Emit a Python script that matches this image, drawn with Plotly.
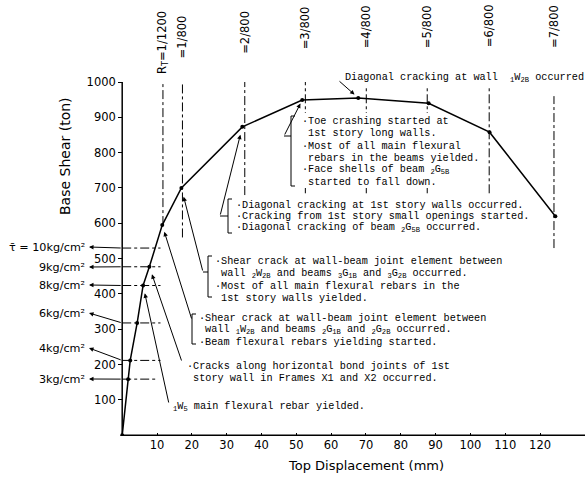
import plotly.graph_objects as go

# ---------------- data ----------------
disp = [0, 1.7, 2.3, 4.3, 6.0, 7.8, 11.5, 17.0, 34.5, 51.7, 67.8, 88.0, 105.5, 124.4]
shear = [0, 159, 212, 318, 424, 477, 595, 700, 873, 949, 955, 940, 858, 620]

tau_labels = ["τ̄ = 10kg/cm²", "9kg/cm²", "8kg/cm²", "6kg/cm²", "4kg/cm²", "3kg/cm²"]
tau_shear = [530, 477, 424, 318, 212, 159]
tau_line_end = [11, 11, 11, 11, 11, 10]

drift_labels = ["R<sub>T</sub>=1/1200", "=1/800", "=2/800", "=3/800", "=4/800",
                "=5/800", "=6/800", "=7/800"]
drift_disp = [11.7, 17.3, 35.2, 52.6, 70.1, 87.6, 105.4, 124.0]
drift_top = [1000, 1000, 1000, 1000, 985, 985, 985, 960]
drift_bottom = [595, 560, 680, 685, 685, 685, 685, 530]

x_ticks = [10, 20, 30, 40, 50, 60, 70, 80, 90, 100, 110, 120]
y_ticks = [100, 200, 300, 400, 500, 600, 700, 800, 900, 1000]

# ---------------- layout helpers (pixel -> axis) ----------------
W, H = 585, 478
MB = 42
PH = H - MB
X0PX, XS = 122.2, 3.482
Y0PX, YS = 435.3, 0.3533


def X(px):
    return (px - X0PX) / XS


def Y(py):
    return (Y0PX - py) / YS


def PY(py):
    return (PH - py) / PH


TXT = dict(family="Liberation Mono", size=10.2, color="black")
SANS = "DejaVu Sans"

fig = go.Figure()

# drift reference lines
vx, vy = [], []
for d, t, b in zip(drift_disp, drift_top, drift_bottom):
    vx += [d, d, None]
    vy += [b, t, None]
fig.add_trace(go.Scatter(x=vx, y=vy, mode="lines",
                         line=dict(color="black", width=1, dash="dashdot"),
                         hoverinfo="skip"))

# tau reference lines
hx, hy = [], []
for s, e in zip(tau_shear, tau_line_end):
    hx += [0, e, None]
    hy += [s, s, None]
fig.add_trace(go.Scatter(x=hx, y=hy, mode="lines",
                         line=dict(color="black", width=1, dash="dashdot"),
                         hoverinfo="skip"))

# main curve
fig.add_trace(go.Scatter(x=disp, y=shear, mode="lines+markers",
                         line=dict(color="black", width=1.5),
                         marker=dict(color="black", size=4)))

shapes = []
# axes lines
shapes.append(dict(type="line", xref="x", yref="y", x0=0, x1=X(585), y0=0, y1=0,
                   line=dict(color="black", width=1.5)))
shapes.append(dict(type="line", xref="x", yref="y", x0=0, x1=0, y0=0, y1=1000,
                   line=dict(color="black", width=1.5)))

# white gaps where the drift lines pass behind text
for (cx, y0, y1) in [(305, 113, 188), (366, 113, 188), (427, 113, 188),
                     (366, 70, 86), (427, 70, 86), (489, 70, 86)]:
    shapes.append(dict(type="rect", xref="x", yref="y", x0=X(cx - 3), x1=X(cx + 3),
                       y0=Y(y1), y1=Y(y0), fillcolor="white", line=dict(width=0),
                       layer="above"))


def path(pts):
    s = "M " + " L ".join(f"{X(p[0])},{Y(p[1])}" for p in pts)
    return dict(type="path", xref="x", yref="y", path=s,
                line=dict(color="black", width=1), layer="above")


# brackets
shapes.append(path([(295, 116), (291, 116), (291, 186), (295, 186)]))
shapes.append(path([(291, 136), (284, 136)]))
shapes.append(path([(232, 199), (228, 199), (228, 233), (232, 233)]))
shapes.append(path([(228, 216), (220, 216)]))
shapes.append(path([(212, 256), (208, 256), (208, 297), (212, 297)]))
shapes.append(path([(208, 272), (203, 272)]))
shapes.append(path([(196, 314), (192, 314), (192, 344), (196, 344)]))

ann = []


def arrow(tx, ty, hx_, hy_, standoff=0):
    ann.append(dict(x=hx_, y=hy_, ax=tx, ay=ty, xref="x", yref="y", axref="x", ayref="y",
                    text="", showarrow=True, arrowhead=2, arrowsize=0.9, arrowwidth=1,
                    arrowcolor="black", standoff=standoff))


def block(xpx, ypxs, lines):
    for ypx, ln in zip(ypxs, lines):
        ann.append(dict(x=X(xpx), y=Y(ypx), xref="x", yref="y", text=ln, showarrow=False,
                        xanchor="left", yanchor="middle", align="left", font=TXT))


NB = "\u00a0"
block(343, [78], ["Diagonal cracking at wall " + NB +
                  "<sub>1</sub>W<sub>2B</sub> occurred"])
block(300, [121, 133.5, 146, 158, 170, 182], [
    "·Toe crashing started at",
    NB + "1st story long walls.",
    "·Most of all main flexural",
    NB + "rebars in the beams yielded.",
    "·Face shells of beam <sub>2</sub>G<sub>5B</sub>",
    NB + "started to fall down."])
block(234, [205, 216.5, 228], [
    "·Diagonal cracking at 1st story walls occurred.",
    "·Cracking from 1st story small openings started.",
    "·Diagonal cracking of beam <sub>2</sub>G<sub>5B</sub> occurred."])
block(213, [261, 273.5, 286, 298], [
    "·Shear crack at wall-beam joint element between",
    NB + "wall <sub>2</sub>W<sub>2B</sub> and beams <sub>3</sub>G<sub>1B</sub> and "
    "<sub>3</sub>G<sub>2B</sub> occurred.",
    "·Most of all main flexural rebars in the",
    NB + "1st story walls yielded."])
block(197, [318, 330, 342], [
    "·Shear crack at wall-beam joint element between",
    NB + "wall <sub>1</sub>W<sub>2B</sub> and beams <sub>2</sub>G<sub>1B</sub> and "
    "<sub>2</sub>G<sub>2B</sub> occurred.",
    "·Beam flexural rebars yielding started."])
block(185, [366, 378], [
    "·Cracks along horizontal bond joints of 1st",
    NB + "story wall in Frames X1 and X2 occurred."])
block(171, [407], ["<sub>1</sub>W<sub>5</sub> main flexural rebar yielded."])

# pointer arrows to curve points
arrow(X(338), Y(80), disp[10], shear[10], 5)
arrow(X(284), Y(136), disp[9], shear[9], 4)
arrow(X(220), Y(216), disp[8], shear[8], 8)
arrow(X(203), Y(272), disp[7], shear[7], 9)
arrow(X(192), Y(320), disp[6], shear[6], 7)
arrow(X(182), Y(362), disp[5], shear[5], 8)
arrow(X(169), Y(404), disp[4], shear[4], 8)

# tau labels and arrows
tau_label_py = [247, 267, 285, 313, 348, 379]
for lab, s, py in zip(tau_labels, tau_shear, tau_label_py):
    ann.append(dict(x=X(87), y=Y(py), xref="x", yref="y", text=lab, showarrow=False,
                    xanchor="right", yanchor="middle",
                    font=dict(family=SANS, size=11.2, color="black")))
    arrow(0, s, X(89), Y(py), 0)

# drift labels on top
drift_label_py = [42, 37, 32, 28, 27, 27, 26, 26]
for lab, d, py in zip(drift_labels, drift_disp, drift_label_py):
    ann.append(dict(x=d, y=PY(py), xref="x", yref="paper", text=lab, showarrow=False,
                    textangle=-90, xanchor="center", yanchor="middle",
                    font=dict(family=SANS, size=11.5, color="black")))

# axis titles
ann.append(dict(x=X(366), y=PY(466), xref="x", yref="paper", text="Top Displacement (mm)",
                showarrow=False, xanchor="center", yanchor="middle",
                font=dict(family=SANS, size=13, color="black")))
ann.append(dict(x=X(65), y=PY(156), xref="x", yref="paper", text="Base Shear (ton)",
                showarrow=False, textangle=-90, xanchor="center", yanchor="middle",
                font=dict(family=SANS, size=14, color="black")))

fig.update_layout(
    width=W, height=H,
    margin=dict(l=0, r=0, t=0, b=MB),
    paper_bgcolor="white", plot_bgcolor="white",
    showlegend=False,
    shapes=shapes,
    annotations=ann,
    xaxis=dict(range=[X(0), X(585)], tickvals=x_ticks, ticks="inside", ticklen=3,
               tickcolor="black", showgrid=False, zeroline=False, showline=False,
               tickfont=dict(family=SANS, size=11.5, color="black")),
    yaxis=dict(range=[Y(PH), Y(0)], tickvals=y_ticks, ticks="outside", ticklen=4,
               tickcolor="black", showgrid=False, zeroline=False, showline=False,
               anchor="free", position=X0PX / W,
               tickfont=dict(family=SANS, size=11.5, color="black")),
)

fig.write_html("out.html", config={"displayModeBar": False},
               post_script="document.body.style.margin='0';")
